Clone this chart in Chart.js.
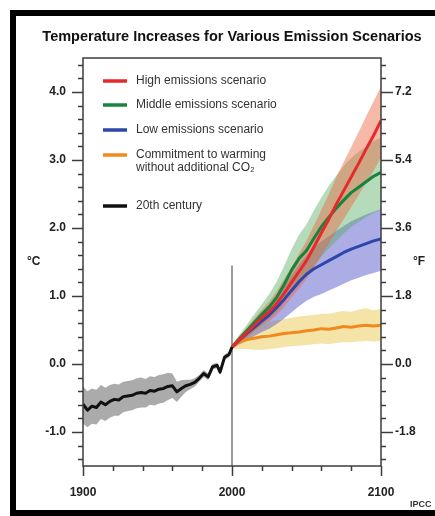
<!DOCTYPE html>
<html><head><meta charset="utf-8">
<script src="https://cdn.jsdelivr.net/npm/chart.js@4.4.1/dist/chart.umd.min.js"></script>
<style>html,body{margin:0;padding:0;background:#fff;}canvas{display:block}</style>
</head><body>
<canvas id="c" width="435" height="516"></canvas>
<script>
// ---------- data ----------
const histYears = [1900,1903,1906,1909,1912,1915,1918,1921,1924,1927,1930,1933,1936,1939,1942,1945,1948,1951,1954,1957,1960,1963,1966,1969,1972,1975,1978,1981,1984,1987,1990,1992,1995,1998,2000];
const histTemp  = [-0.59,-0.68,-0.62,-0.64,-0.56,-0.60,-0.55,-0.52,-0.53,-0.48,-0.47,-0.46,-0.43,-0.42,-0.43,-0.39,-0.40,-0.37,-0.36,-0.33,-0.32,-0.41,-0.36,-0.32,-0.30,-0.27,-0.21,-0.14,-0.19,-0.04,-0.02,-0.12,0.10,0.14,0.25];
const histUpper = [-0.33,-0.40,-0.36,-0.38,-0.31,-0.35,-0.31,-0.29,-0.30,-0.26,-0.25,-0.24,-0.21,-0.20,-0.22,-0.18,-0.19,-0.16,-0.15,-0.13,-0.14,-0.26,-0.24,-0.23,-0.23,-0.21,-0.16,-0.09,-0.14,0.00,0.02,-0.08,0.14,0.18,0.28];
const histLower = [-0.88,-0.93,-0.88,-0.89,-0.81,-0.84,-0.79,-0.76,-0.76,-0.71,-0.69,-0.68,-0.65,-0.64,-0.64,-0.60,-0.61,-0.58,-0.57,-0.53,-0.50,-0.56,-0.48,-0.41,-0.37,-0.33,-0.26,-0.19,-0.24,-0.08,-0.06,-0.16,0.06,0.10,0.22];

const scenYears = [2000,2005,2010,2015,2020,2025,2030,2035,2040,2045,2050,2055,2060,2065,2070,2075,2080,2085,2090,2095,2100];
const highTemp  = [0.25,0.36,0.46,0.57,0.68,0.77,0.89,1.04,1.20,1.36,1.52,1.72,1.93,2.13,2.35,2.55,2.75,2.95,3.16,3.36,3.58];
const highUpper = [0.28,0.41,0.54,0.67,0.80,0.92,1.07,1.25,1.43,1.62,1.81,2.04,2.27,2.50,2.75,2.97,3.19,3.41,3.64,3.86,4.08];
const highLower = [0.22,0.31,0.39,0.48,0.57,0.63,0.72,0.84,0.98,1.11,1.25,1.42,1.60,1.77,1.96,2.13,2.31,2.48,2.66,2.84,3.04];
const midTemp   = [0.25,0.37,0.49,0.61,0.73,0.84,0.98,1.17,1.38,1.55,1.67,1.85,2.02,2.16,2.29,2.41,2.52,2.60,2.68,2.76,2.82];
const midUpper  = [0.28,0.43,0.58,0.73,0.88,1.03,1.21,1.44,1.69,1.90,2.05,2.26,2.45,2.62,2.77,2.91,3.03,3.12,3.20,3.28,3.33];
const midLower  = [0.22,0.31,0.40,0.49,0.58,0.66,0.76,0.91,1.08,1.21,1.30,1.44,1.58,1.70,1.81,1.92,2.02,2.09,2.16,2.22,2.27];
const lowTemp   = [0.25,0.35,0.45,0.54,0.63,0.72,0.83,0.95,1.08,1.21,1.32,1.40,1.46,1.52,1.58,1.64,1.69,1.73,1.77,1.81,1.84];
const lowUpper  = [0.28,0.40,0.52,0.63,0.74,0.86,0.99,1.14,1.30,1.46,1.60,1.71,1.80,1.88,1.96,2.03,2.10,2.15,2.20,2.24,2.28];
const lowLower  = [0.22,0.29,0.35,0.41,0.47,0.52,0.59,0.67,0.76,0.85,0.93,0.99,1.03,1.08,1.13,1.18,1.23,1.27,1.31,1.34,1.37];
const commitTemp  = [0.25,0.32,0.36,0.38,0.40,0.41,0.43,0.45,0.46,0.47,0.49,0.50,0.52,0.51,0.53,0.55,0.54,0.56,0.57,0.56,0.57];
const commitUpper = [0.28,0.42,0.50,0.55,0.58,0.62,0.64,0.66,0.68,0.70,0.71,0.72,0.74,0.74,0.76,0.78,0.77,0.80,0.82,0.79,0.81];
const commitLower = [0.22,0.22,0.22,0.21,0.21,0.22,0.23,0.25,0.26,0.27,0.28,0.29,0.30,0.29,0.31,0.32,0.32,0.33,0.34,0.33,0.34];

const markerYear = 2000;
const markerRange = [1.45, -1.5];

const legendLabels = ['High emissions scenario','Middle emissions scenario','Low emissions scenario',['Commitment to warming','without additional CO\u2082'],'20th century'];
const legendColors = ['#e8292b','#15843d','#2c46aa','#f08a1e','#111111'];

const xTickLabels = [1900, 2000, 2100];
const yTickLabelsC = [-1.0, 0.0, 1.0, 2.0, 3.0, 4.0];
const yTickLabelsF = [-1.8, 0.0, 1.8, 3.6, 5.4, 7.2];
const titleText = 'Temperature Increases for Various Emission Scenarios';

// ---------- chart ----------
const FONT = "'Liberation Sans', Arial, sans-serif";
Chart.defaults.font.family = FONT;
const pts = (xs, ys) => xs.map((x, i) => ({x: x, y: ys[i]}));
const lineDs = (label, xs, ys, color) => ({label, data: pts(xs, ys), borderColor: color, borderWidth: 3, pointRadius: 0, fill: false, tension: 0, borderJoinStyle: 'round'});
const bandTop = (label, xs, ys, color) => ({label, data: pts(xs, ys), borderColor: 'rgba(0,0,0,0)', borderWidth: 0, backgroundColor: color, pointRadius: 0, fill: '+1', tension: 0});
const bandBot = (label, xs, ys) => ({label, data: pts(xs, ys), borderColor: 'rgba(0,0,0,0)', borderWidth: 0, pointRadius: 0, fill: false, tension: 0});

const near = (arr, v) => arr.some(a => Math.abs(a - v) < 1e-6);

const deco = {
  id: 'deco',
  afterDraw(chart) {
    const {ctx, chartArea: a, scales} = chart;
    ctx.save();
    // plot frame
    ctx.strokeStyle = '#3c3c3c';
    ctx.lineWidth = 1.5;
    ctx.strokeRect(a.left, a.top, a.right - a.left, a.bottom - a.top);
    // ticks
    ctx.beginPath();
    scales.y.ticks.forEach(t => {
      const p = Math.round(scales.y.getPixelForValue(t.value)) + 0.5;
      const len = near(yTickLabelsC, t.value) ? 11 : 5;
      ctx.moveTo(a.left - len, p); ctx.lineTo(a.left, p);
    });
    scales.y2.ticks.forEach(t => {
      const p = Math.round(scales.y2.getPixelForValue(t.value)) + 0.5;
      const len = near(yTickLabelsF, t.value) ? 12 : 5;
      ctx.moveTo(a.right, p); ctx.lineTo(a.right + len, p);
    });
    scales.x.ticks.forEach(t => {
      const p = Math.round(scales.x.getPixelForValue(t.value)) + 0.5;
      const len = near(xTickLabels, t.value) ? 10 : 5;
      ctx.moveTo(p, a.bottom); ctx.lineTo(p, a.bottom + len);
    });
    ctx.stroke();
    // unit labels
    ctx.fillStyle = '#222';
    ctx.font = 'bold 12px ' + FONT;
    ctx.textBaseline = 'middle';
    const midY = (a.top + a.bottom) / 2;
    ctx.textAlign = 'left';
    ctx.fillText('\u00B0C', 27, midY);
    ctx.fillText('\u00B0F', 413, midY);
    // legend
    const rows = [a.top + 23, a.top + 47, a.top + 72, a.top + 97, a.top + 148];
    ctx.font = '12px ' + FONT;
    ctx.fillStyle = '#333';
    legendLabels.forEach((lab, i) => {
      const y = rows[i];
      ctx.strokeStyle = legendColors[i];
      ctx.lineWidth = 3.5;
      ctx.beginPath(); ctx.moveTo(a.left + 20, y); ctx.lineTo(a.left + 44, y); ctx.stroke();
      const lines = Array.isArray(lab) ? lab : [lab];
      lines.forEach((s, j) => ctx.fillText(s, a.left + 53, y + j * 12.5));
    });
    // IPCC credit
    ctx.font = 'bold 9px ' + FONT;
    ctx.fillStyle = '#333';
    ctx.textBaseline = 'alphabetic';
    ctx.fillText('IPCC', 410, 507);
    // outer frame
    ctx.strokeStyle = '#000';
    ctx.lineWidth = 6;
    ctx.strokeRect(13, 13, 440, 500);
    ctx.restore();
  }
};

const tickFont = {size: 12, weight: 'bold', family: FONT};

new Chart(document.getElementById('c'), {
  type: 'line',
  data: {
    datasets: [
      lineDs('20th century', histYears, histTemp, legendColors[4]),
      lineDs('High emissions scenario', scenYears, highTemp, legendColors[0]),
      lineDs('Middle emissions scenario', scenYears, midTemp, legendColors[1]),
      lineDs('Low emissions scenario', scenYears, lowTemp, legendColors[2]),
      lineDs('Commitment to warming without additional CO2', scenYears, commitTemp, legendColors[3]),
      {label: 'year 2000', data: [{x: markerYear, y: markerRange[0]}, {x: markerYear, y: markerRange[1]}], borderColor: '#7c7c7c', borderWidth: 1.5, pointRadius: 0, fill: false},
      bandTop('high upper', scenYears, highUpper, 'rgba(236,100,62,0.45)'),
      bandBot('high lower', scenYears, highLower),
      bandTop('mid upper', scenYears, midUpper, 'rgba(80,170,92,0.42)'),
      bandBot('mid lower', scenYears, midLower),
      bandTop('low upper', scenYears, lowUpper, 'rgba(92,92,204,0.5)'),
      bandBot('low lower', scenYears, lowLower),
      bandTop('commit upper', scenYears, commitUpper, 'rgba(236,202,80,0.5)'),
      bandBot('commit lower', scenYears, commitLower),
      bandTop('hist upper', histYears, histUpper, '#ababab'),
      bandBot('hist lower', histYears, histLower)
    ]
  },
  options: {
    responsive: false,
    animation: false,
    layout: {padding: {left: 29, top: 0, right: 0, bottom: 0}},
    plugins: {
      legend: {display: false},
      tooltip: {enabled: false},
      title: {display: true, text: titleText, fullSize: true, color: '#111',
              font: {size: 14.5, weight: 'bold', family: FONT}, padding: {top: 28, bottom: 12.6}}
    },
    scales: {
      x: {type: 'linear', position: 'bottom', min: 1900, max: 2100,
          afterBuildTicks: s => { const t = []; for (let v = 1900; v <= 2100; v += 20) t.push({value: v}); s.ticks = t; },
          ticks: {autoSkip: false, maxRotation: 0, padding: 19, color: '#222', font: tickFont,
                  callback: v => near(xTickLabels, v) ? String(v) : ''},
          grid: {display: false, drawTicks: false}, border: {display: false},
          afterFit: s => { s.height = 50; }},
      y: {type: 'linear', position: 'left', min: -1.5, max: 4.5,
          afterBuildTicks: s => { const t = []; for (let k = -7; k <= 22; k++) t.push({value: k / 5}); s.ticks = t; },
          ticks: {autoSkip: false, padding: 17, color: '#222', font: tickFont,
                  callback: v => near(yTickLabelsC, v) ? v.toFixed(1) : ''},
          grid: {display: false, drawTicks: false}, border: {display: false},
          afterFit: s => { s.width = 54; }},
      y2: {type: 'linear', position: 'right', min: -2.7, max: 8.1,
          afterBuildTicks: s => { const t = []; for (let k = -7; k <= 22; k++) t.push({value: k * 0.36}); s.ticks = t; },
          ticks: {autoSkip: false, padding: 14, color: '#222', font: tickFont,
                  callback: v => near(yTickLabelsF, v) ? v.toFixed(1) : ''},
          grid: {display: false, drawTicks: false}, border: {display: false},
          afterFit: s => { s.width = 54; }}
    }
  },
  plugins: [deco]
});
</script>
</body></html>
